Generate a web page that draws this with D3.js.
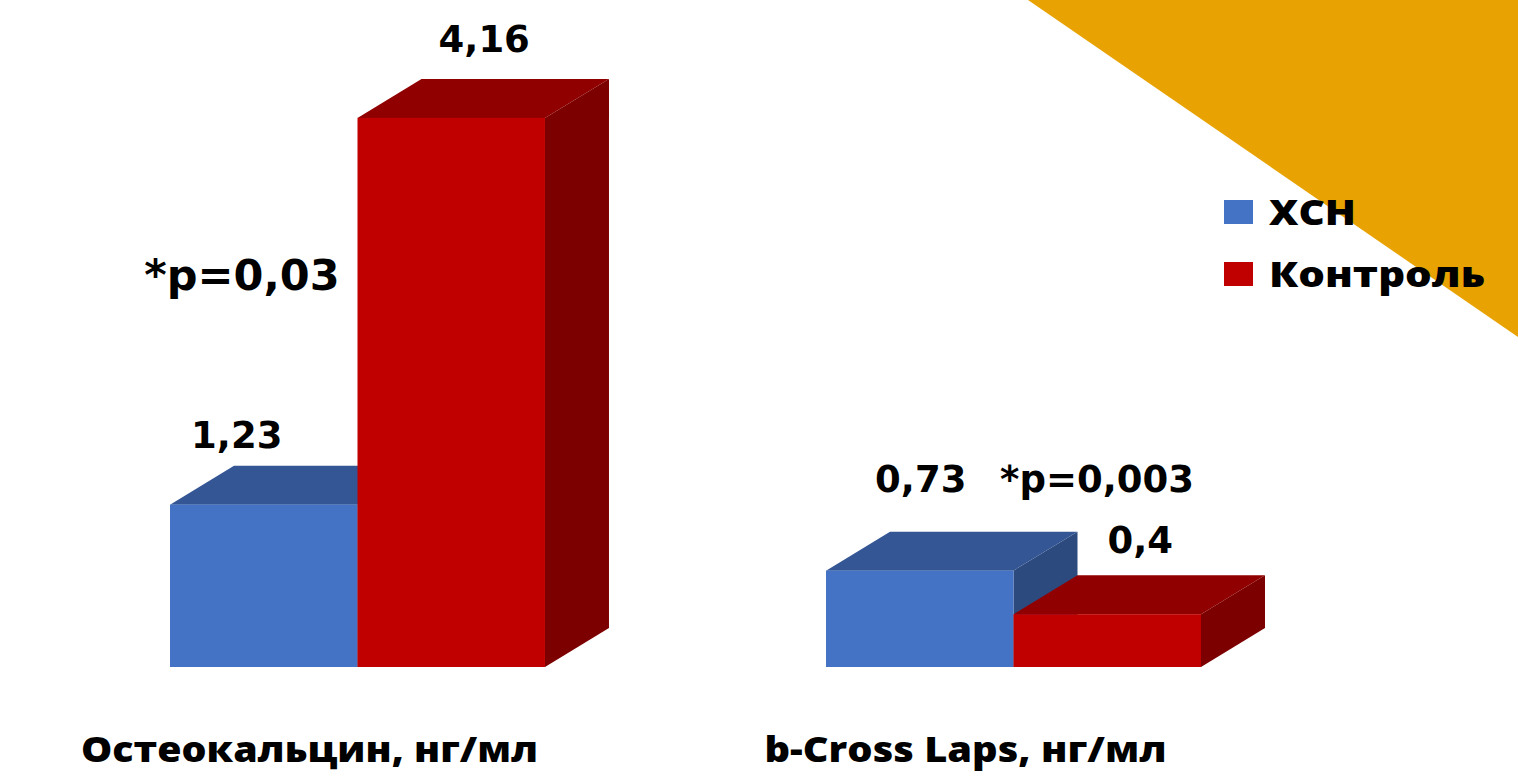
<!DOCTYPE html>
<html>
<head>
<meta charset="utf-8">
<script src="https://cdn.jsdelivr.net/npm/d3@7"></script>
<style>
  html, body { margin: 0; padding: 0; background: #fff; }
  svg { display: block; }
</style>
</head>
<body>
<svg id="chart" width="1518" height="777"></svg>
<script>
// Marker values, ng/ml
const categories = ["Остеокальцин, нг/мл", "b-Cross Laps, нг/мл"];
const seriesNames = ["ХСН", "Контроль"];
const chsnValues = [1.23, 0.73];
const controlValues = [4.16, 0.4];
const valueLabels = [["1,23", "4,16"], ["0,73", "0,4"]];
const pLabels = ["*p=0,03", "*p=0,003"];

const W = 1518, H = 777;
const svg = d3.select("#chart");

// decorative corner triangle
svg.append("path")
  .attr("d", `M1028,0 L${W},0 L${W},337 Z`)
  .attr("fill", "#E8A302");

const colors = {
  "ХСН":      { front: "#4472C4", top: "#345694", side: "#2C4A7E" },
  "Контроль": { front: "#C00000", top: "#900000", side: "#7C0000" }
};

const baseY = 667;
const depthX = 64, depthY = 39;

const y = d3.scaleLinear().domain([0, 5]).range([baseY, baseY - 660]);
const x0 = d3.scaleBand().domain(categories).range([170, 1201]).paddingInner(0.4284).paddingOuter(0);
const x1 = d3.scaleBand().domain(seriesNames).range([0, x0.bandwidth()]).padding(0);

const rows = categories.map((c, i) => ({
  cat: c,
  bars: [
    { name: seriesNames[0], value: chsnValues[i], label: valueLabels[i][0] },
    { name: seriesNames[1], value: controlValues[i], label: valueLabels[i][1] }
  ]
}));

const g = svg.append("g");
rows.forEach(r => {
  r.bars.forEach(b => {
    const xl = x0(r.cat) + x1(b.name);
    const xr = xl + x1.bandwidth();
    const yt = y(b.value);
    const c = colors[b.name];
    const bar = g.append("g");
    // right side face
    bar.append("path")
      .attr("d", `M${xr},${yt} L${xr + depthX},${yt - depthY} L${xr + depthX},${baseY - depthY} L${xr},${baseY} Z`)
      .attr("fill", c.side);
    // top face
    bar.append("path")
      .attr("d", `M${xl},${yt} L${xl + depthX},${yt - depthY} L${xr + depthX},${yt - depthY} L${xr},${yt} Z`)
      .attr("fill", c.top);
    // front face
    bar.append("rect")
      .attr("x", xl).attr("y", yt)
      .attr("width", x1.bandwidth()).attr("height", baseY - yt)
      .attr("fill", c.front);
  });
});

// value labels, placed relative to each bar's top
const valueNudge = [[{ dx: -27, dy: -57 }, { dx: 33, dy: -66 }], [{ dx: 1, dy: -79 }, { dx: 33, dy: -61 }]];
const valueFont = "'DejaVu Sans', Verdana, sans-serif";
rows.forEach((r, i) => {
  r.bars.forEach((b, j) => {
    const cx = x0(r.cat) + x1(b.name) + x1.bandwidth() / 2;
    g.append("text")
      .attr("x", cx + valueNudge[i][j].dx)
      .attr("y", y(b.value) + valueNudge[i][j].dy)
      .attr("text-anchor", "middle")
      .attr("font-family", valueFont)
      .attr("font-weight", "bold")
      .attr("font-size", 37)
      .attr("fill", "#000")
      .text(b.label);
  });
});

// significance notes
const pPos = [{ x: 242, y: 290, size: 43 }, { x: 1097, y: 492, size: 37 }];
pLabels.forEach((t, i) => {
  g.append("text")
    .attr("x", pPos[i].x).attr("y", pPos[i].y)
    .attr("text-anchor", "middle")
    .attr("font-family", valueFont)
    .attr("font-weight", "bold")
    .attr("font-size", pPos[i].size)
    .attr("fill", "#000")
    .text(t);
});

// category labels (wide bold face)
const catFont = "'Open Sans', 'Noto Sans', sans-serif";
const catWidths = [457, 402];
categories.forEach((c, i) => {
  g.append("text")
    .attr("x", x0(c) + x0.bandwidth() / 2 - 48 - catWidths[i] / 2)
    .attr("y", 762)
    .attr("font-family", catFont)
    .attr("font-weight", 800)
    .attr("font-size", 36)
    .attr("textLength", catWidths[i])
    .attr("lengthAdjust", "spacingAndGlyphs")
    .attr("fill", "#000")
    .text(c);
});

// legend
const legendWidths = [87, 216];
const legend = svg.append("g").attr("transform", "translate(1224,200)");
seriesNames.forEach((s, i) => {
  const row = legend.append("g").attr("transform", `translate(0,${i * 62})`);
  row.append("rect").attr("width", 29).attr("height", 24).attr("fill", colors[s].front);
  row.append("text")
    .attr("x", 45).attr("y", 25)
    .attr("font-family", catFont)
    .attr("font-weight", 800)
    .attr("font-size", 36)
    .attr("textLength", legendWidths[i])
    .attr("lengthAdjust", "spacingAndGlyphs")
    .attr("fill", "#000")
    .text(s);
});
</script>
</body>
</html>
